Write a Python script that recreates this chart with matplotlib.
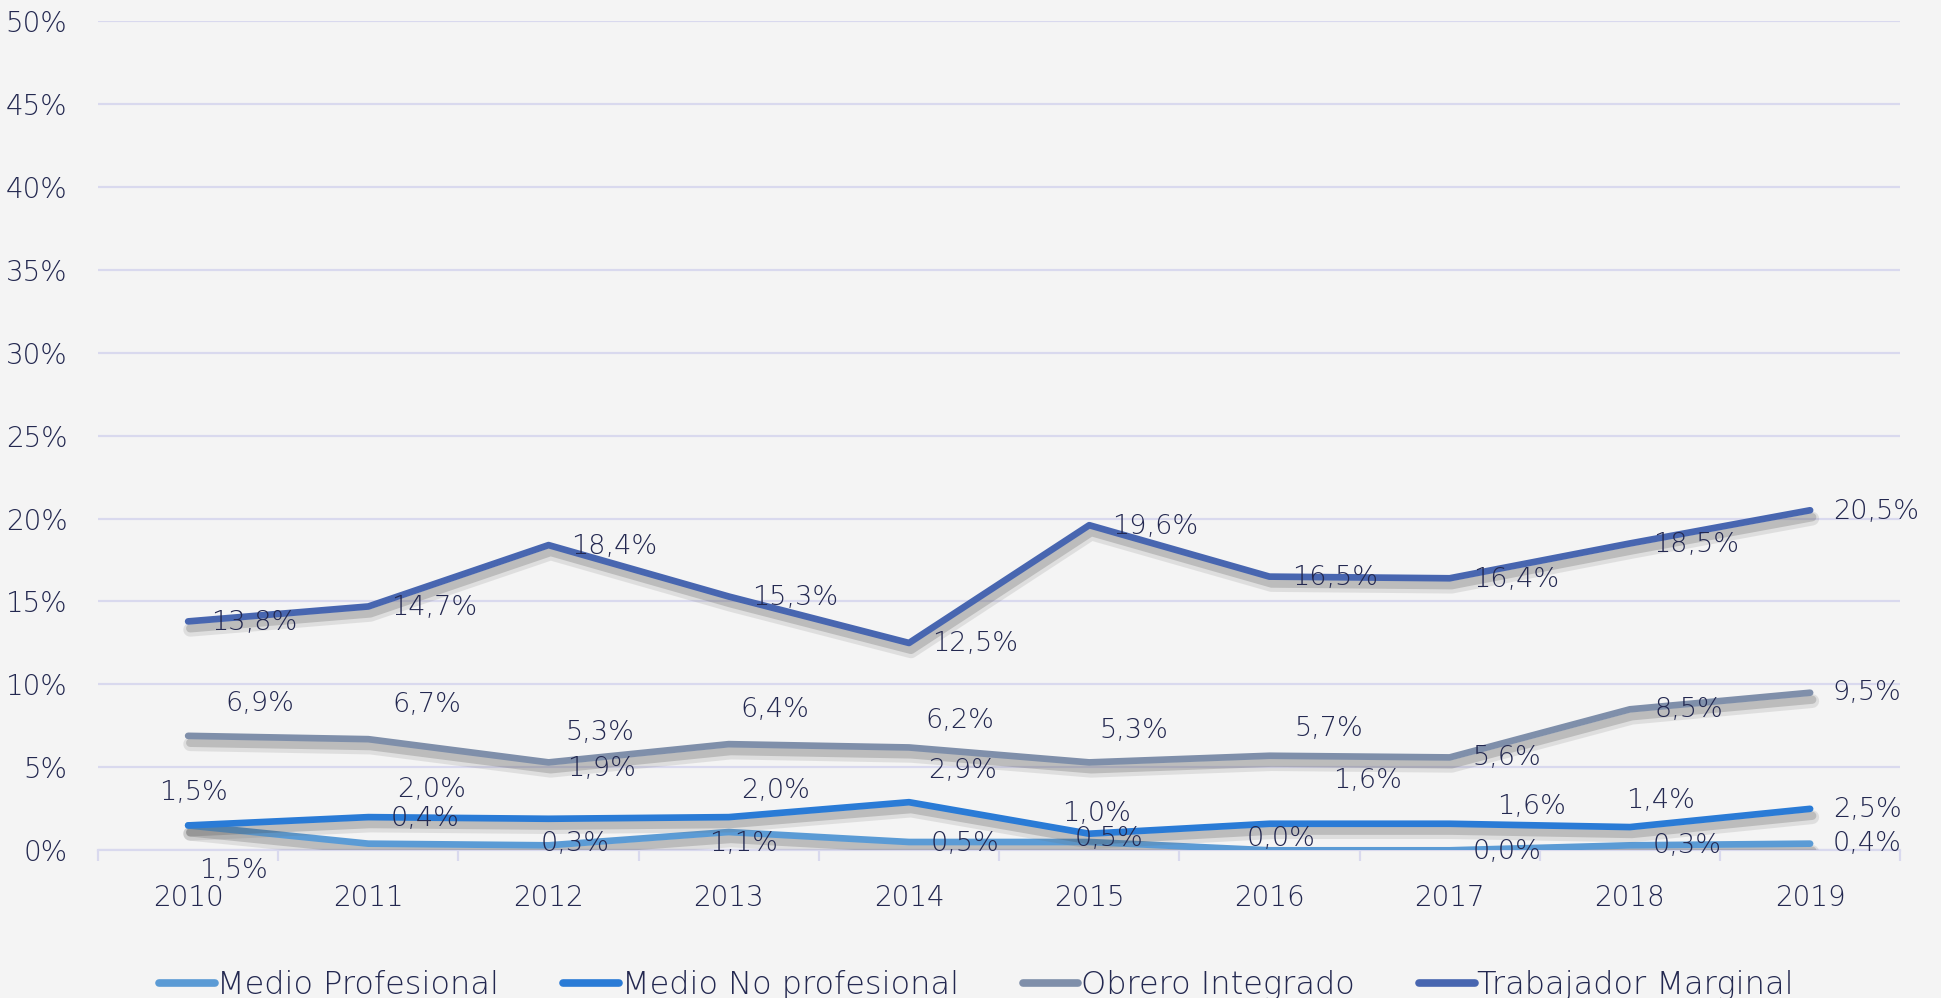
import matplotlib
matplotlib.use("Agg")
import matplotlib.pyplot as plt
import matplotlib.patheffects as pe
from matplotlib.ticker import FixedLocator, PercentFormatter

# ==========================================
# Data
# ==========================================
years = ['2010', '2011', '2012', '2013', '2014', '2015', '2016', '2017', '2018', '2019']

medio_profesional = [1.5, 0.4, 0.3, 1.1, 0.5, 0.5, 0.0, 0.0, 0.3, 0.4]
medio_no_profesional = [1.5, 2.0, 1.9, 2.0, 2.9, 1.0, 1.6, 1.6, 1.4, 2.5]
obrero_integrado = [6.9, 6.7, 5.3, 6.4, 6.2, 5.3, 5.7, 5.6, 8.5, 9.5]
trabajador_marginal = [13.8, 14.7, 18.4, 15.3, 12.5, 19.6, 16.5, 16.4, 18.5, 20.5]

series_names = ['Medio Profesional', 'Medio No profesional', 'Obrero Integrado', 'Trabajador Marginal']

# label offsets (pixels, dx right / dy down) as placed in the original
offs_mp = [(45, 45), (57, -25), (27, -2), (15, 11), (56, 1), (20, -4), (12, -12), (57, 1), (57, 0), (57, 0)]
offs_mnp = [(5, -33), (63, -28), (53, -50), (47, -27), (54, -32), (7, -20), (98, -43), (82, -17), (31, -27), (57, 1)]
offs_oi = [(72, -32), (58, -35), (51, -30), (46, -35), (51, -27), (45, -32), (59, -27), (57, 0), (59, 0), (57, 0)]
offs_tm = [(66, 1)] * 10

colors = ['#5B9BD5', '#2A7BD6', '#7F8FAA', '#4866B0']
bg = '#F4F4F4'
txt = '#232850'
grid_c = '#D9D9EE'

DPI = 100
plt.rcParams['font.family'] = ['DejaVu Sans']
plt.rcParams['font.weight'] = 'light'

fig = plt.figure(figsize=(19.41, 9.98), dpi=DPI, facecolor=bg)
ax = fig.add_axes([0.0505, 0.148, 0.9285, 0.831], facecolor=bg)

x = list(range(len(years)))
shadow = [pe.SimpleLineShadow(offset=(1.5, -6), shadow_color='#666666', alpha=0.15, linewidth=10),
          pe.SimpleLineShadow(offset=(1.5, -5), shadow_color='#444444', alpha=0.22, linewidth=6),
          pe.Normal()]

all_series = [medio_profesional, medio_no_profesional, obrero_integrado, trabajador_marginal]
all_offs = [offs_mp, offs_mnp, offs_oi, offs_tm]

for vals, name, col in zip(all_series, series_names, colors):
    ax.plot(x, [v / 100 for v in vals], color=col, lw=4.8, solid_capstyle='round',
            label=name, path_effects=shadow, zorder=3)

for vals, offs in zip(all_series, all_offs):
    for xi, v, (dx, dy) in zip(x, vals, offs):
        lab = f"{v:.1f}%".replace('.', ',')
        ax.annotate(lab, (xi, v / 100), xytext=(dx * 72 / DPI, -dy * 72 / DPI),
                    textcoords='offset points', ha='center', va='center',
                    fontsize=19.5, color=txt, zorder=5)

ax.set_xlim(-0.5, len(years) - 0.5)
ax.set_ylim(0, 0.5)
ax.yaxis.set_major_locator(FixedLocator([i * 0.05 for i in range(11)]))
ax.yaxis.set_major_formatter(PercentFormatter(1.0, decimals=0))
ax.grid(axis='y', color=grid_c, lw=1.6, zorder=0)
ax.set_axisbelow(True)

ax.set_xticks(x)
ax.set_xticklabels(years)
ax.set_xticks([i - 0.5 for i in range(len(years) + 1)], minor=True)
ax.tick_params(axis='x', which='major', length=0, pad=24, labelsize=20, labelcolor=txt)
ax.tick_params(axis='x', which='minor', length=8, width=1.6, color=grid_c)
ax.tick_params(axis='y', length=0, pad=22, labelsize=20, labelcolor=txt)

for s in ['top', 'right', 'left']:
    ax.spines[s].set_visible(False)
ax.spines['bottom'].set_color(grid_c)
ax.spines['bottom'].set_linewidth(1.6)

leg = fig.legend(loc='center', bbox_to_anchor=(0.503, 0.013), ncol=4, frameon=False,
                 fontsize=23, handlelength=1.75, handletextpad=0.08, columnspacing=2.0)
for t in leg.get_texts():
    t.set_color(txt)
for h in leg.get_lines():
    h.set_linewidth(5.5)
    h.set_path_effects([])

fig.savefig('out.png', dpi=DPI, facecolor=bg)
